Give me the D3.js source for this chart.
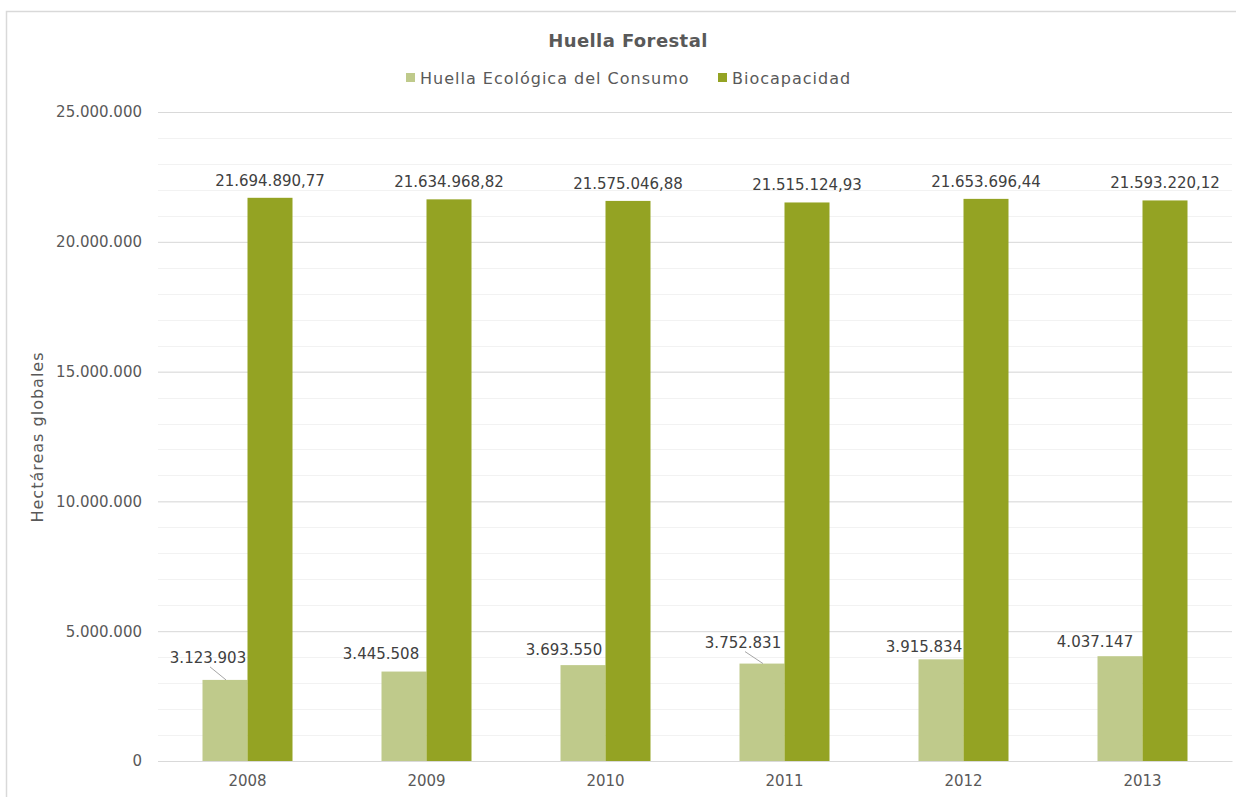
<!DOCTYPE html>
<html>
<head>
<meta charset="utf-8">
<script src="https://cdn.jsdelivr.net/npm/d3@7"></script>
<style>
  body { margin: 0; background: #fff; }
  svg text { font-family: "DejaVu Sans", sans-serif; }
</style>
</head>
<body>
<script>
// data
var years = ["2008", "2009", "2010", "2011", "2012", "2013"];
var huella = [3123903, 3445508, 3693550, 3752831, 3915834, 4037147];
var biocap = [21694890.77, 21634968.82, 21575046.88, 21515124.93, 21653696.44, 21593220.12];
var seriesNames = ["Huella Ecológica del Consumo", "Biocapacidad"];
var yTicks = [0, 5000000, 10000000, 15000000, 20000000, 25000000];

var colors = ["#bfca8b", "#94a323"];

// hand-moved labels of the light bars (dx, extra dy) as in the original
var labelNudge = [[-17, -8], [-23, -4], [-19, -1], [-19, -7], [-17, 2], [-25, 0]];

var w = 1236, h = 797;
var plotL = 158, plotR = 1232, plotT = 112, plotB = 761;

var svg = d3.select("body").append("svg")
    .attr("width", w)
    .attr("height", h);

// outer frame
svg.append("rect")
    .attr("x", 6.5).attr("y", 11.5)
    .attr("width", w + 10).attr("height", h + 10)
    .attr("fill", "none")
    .attr("stroke", "#d9d9d9")
    .attr("stroke-width", 1.5);

var x = d3.scaleBand().domain(years).range([plotL, plotR]);
var y = d3.scaleLinear().domain([0, 25000000]).range([plotB, plotT]);

var barW = 45;

// minor grid
var minor = d3.range(0, 25000001, 1000000);
svg.append("g").selectAll("line")
    .data(minor)
    .enter().append("line")
    .attr("x1", plotL).attr("x2", plotR)
    .attr("y1", function(d) { return Math.round(y(d)) + 0.5; })
    .attr("y2", function(d) { return Math.round(y(d)) + 0.5; })
    .attr("stroke", "#f2f2f2");

// major grid via axis
var yAxis = d3.axisLeft(y)
    .tickValues(yTicks)
    .tickSize(-(plotR - plotL))
    .tickPadding(16)
    .tickFormat(function(d) { return d3.format(",")(d).replace(/,/g, "."); });

var gy = svg.append("g")
    .attr("transform", "translate(" + plotL + ",0)")
    .call(yAxis);
gy.select(".domain").remove();
gy.selectAll(".tick line").attr("stroke", "#d9d9d9");
gy.selectAll(".tick text")
    .attr("fill", "#595959")
    .attr("font-size", "15px");

// x axis labels
var xAxis = d3.axisBottom(x).tickSize(0).tickPadding(14);
var gx = svg.append("g")
    .attr("transform", "translate(0," + plotB + ")")
    .call(xAxis);
gx.select(".domain").attr("stroke", "#d9d9d9");
gx.selectAll(".tick text")
    .attr("fill", "#595959")
    .attr("font-size", "15px");

// bars
var bars = svg.append("g");
bars.selectAll(".huella")
    .data(huella)
    .enter().append("rect")
    .attr("x", function(d, i) { return x(years[i]) + x.bandwidth() / 2 - barW; })
    .attr("y", function(d) { return y(d); })
    .attr("width", barW)
    .attr("height", function(d) { return plotB - y(d); })
    .attr("fill", colors[0]);

bars.selectAll(".bio")
    .data(biocap)
    .enter().append("rect")
    .attr("x", function(d, i) { return x(years[i]) + x.bandwidth() / 2; })
    .attr("y", function(d) { return y(d); })
    .attr("width", barW)
    .attr("height", function(d) { return plotB - y(d); })
    .attr("fill", colors[1]);

// labels
function fmtInt(v) { return d3.format(",")(v).replace(/,/g, "."); }
function fmtDec(v) {
    var s = d3.format(",.2f")(v);
    return s.replace(/,/g, "#").replace(".", ",").replace(/#/g, ".");
}

svg.append("g").selectAll("text")
    .data(biocap)
    .enter().append("text")
    .attr("x", function(d, i) { return x(years[i]) + x.bandwidth() / 2 + barW / 2; })
    .attr("y", function(d) { return y(d) - 12; })
    .attr("text-anchor", "middle")
    .attr("font-size", "15px")
    .attr("fill", "#404040")
    .text(fmtDec);

var lg = svg.append("g");
huella.forEach(function(d, i) {
    var bx = x(years[i]) + x.bandwidth() / 2 - barW / 2;
    var tx = bx + labelNudge[i][0];
    var ty = y(d) - 9 + labelNudge[i][1];
    lg.append("text")
        .attr("x", tx).attr("y", ty)
        .attr("text-anchor", "middle")
        .attr("font-size", "15px")
        .attr("fill", "#404040")
        .text(fmtInt(d));
    if (i === 0 || i === 3) {
        lg.append("line")
            .attr("x1", tx + 2).attr("y1", ty + 4)
            .attr("x2", bx + 1).attr("y2", y(d))
            .attr("stroke", "#a6a6a6");
    }
});

// title
svg.append("text")
    .attr("x", 628).attr("y", 47)
    .attr("text-anchor", "middle")
    .attr("font-size", "18px")
    .attr("font-weight", "bold")
    .attr("letter-spacing", "0.4px")
    .attr("fill", "#595959")
    .text("Huella Forestal");

// legend
var legX = [406, 718];
seriesNames.forEach(function(n, i) {
    svg.append("rect")
        .attr("x", legX[i]).attr("y", 73)
        .attr("width", 9).attr("height", 9)
        .attr("fill", colors[i]);
    svg.append("text")
        .attr("x", legX[i] + 14).attr("y", 84)
        .attr("font-size", "16px")
        .attr("letter-spacing", "1px")
        .attr("fill", "#595959")
        .text(n);
});

// y title
svg.append("text")
    .attr("transform", "rotate(-90)")
    .attr("x", -437).attr("y", 43)
    .attr("text-anchor", "middle")
    .attr("font-size", "16px")
    .attr("letter-spacing", "1px")
    .attr("fill", "#595959")
    .text("Hectáreas globales");
</script>
</body>
</html>
